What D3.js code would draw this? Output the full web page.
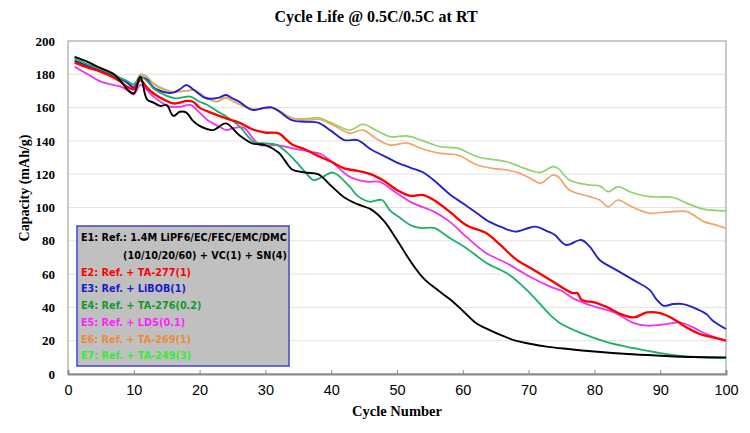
<!DOCTYPE html>
<html><head><meta charset="utf-8">
<script src="https://cdn.jsdelivr.net/npm/d3@7"></script>
<style>body{margin:0;background:#fff}</style>
</head><body>
<svg id="chart" width="750" height="433"></svg>
<script>
const chartTitle = "Cycle Life @ 0.5C/0.5C at RT";
const xTitle = "Cycle Number";
const yTitle = "Capacity (mAh/g)";
const xTicks = [0,10,20,30,40,50,60,70,80,90,100];
const yTicks = [0,20,40,60,80,100,120,140,160,180,200];

const e1 = [[1,190.5],[3,187.5],[4,185.5],[6,182],[7,180],[8,176],[9,171],[10,168.5],[11,178.5],[12,165],[13,163],[14,161],[15,161.5],[16,155],[17,157.5],[18,157],[19,152],[20,149],[22,146.5],[24,150.5],[26,143.5],[28,138.5],[30,137.5],[32,133],[33,128],[34,123],[36,121],[38,120],[40,113],[42,106],[44,102],[46,99],[48,92],[50,80.5],[52,68],[54,57.6],[56,51],[58,45],[60,38],[62,30.6],[64,26.5],[66,23],[68,20],[70,18.3],[73,16.3],[76,15],[80,13.5],[85,12],[90,11],[95,10.2],[100,10]];
const e2 = [[1,187],[3,184],[5,181.5],[7,178],[8,175.5],[9,172.5],[10,171],[11,176.5],[12,172],[13,168.5],[15,164],[16,162.5],[17,163],[18,164],[19,163.5],[20,160],[22,156.5],[24,153.5],[26,151],[28,147],[30,145],[32,144.5],[34,138],[36,135],[38,131],[40,127.5],[42,123.5],[44,122],[46,120],[48,116],[50,110.5],[52,107],[54,107.5],[55.6,104.5],[58,97.5],[60.5,89.5],[63.6,84.5],[65.7,77.5],[68.2,68.5],[70.8,62.5],[73.3,56.5],[76.7,48.6],[77.4,48.6],[78.1,44.4],[80,43],[82,40],[84,36],[86,34],[88,37],[90,36.5],[92,33],[94,28],[96,24],[98,22],[100,20]];
const e3 = [[1,188],[3,185],[5,182],[7,179],[9,175],[10,172],[11,178],[12,177],[13,172],[15,169],[16,169],[17,171],[18,173.6],[19,171],[21,165.6],[23,166],[24,167.6],[25,165.5],[26,163.6],[28,158.6],[30,160],[31,160.1],[32,158],[34,152.5],[36,151.5],[38,151],[40,146],[42,140.5],[44,140.5],[46,135],[48,131],[50,127],[52,124],[54,121],[56,115],[58,108],[60,102.5],[62,97],[64,91.5],[66,88],[68,85.5],[70,87.7],[71,88.5],[73,85.5],[74,83.5],[75.7,77.5],[78,80.5],[79.3,76.5],[80.8,68.5],[83.3,62.5],[85.9,56.5],[88.4,50.5],[89.4,45],[90.5,41],[92,42],[93.5,42],[95,40],[97,36],[98,32],[100,27]];
const e4 = [[1,189.5],[3,186],[5,183],[7,179.5],[9,176],[10,174],[11,178.6],[12,176],[13,171.5],[15,167],[16.4,165.6],[18.6,166.6],[20,163.5],[21.2,161.6],[23,157],[24.1,154.5],[26.1,148.6],[28.2,139.5],[30.2,138.5],[31.8,137.5],[33,134],[34.2,129.5],[36,121.5],[37.3,116.5],[38.5,118],[40.3,121],[42.8,112.5],[44,107],[45.8,103.5],[47.7,104.5],[49,98],[50.5,93.7],[52,89.5],[53.5,87.7],[55.6,87.7],[58,81.7],[60.5,75.7],[63.6,66.7],[67.1,59.5],[70.2,48.6],[73.3,35.4],[75,30],[78,24.5],[82,19],[86,15.5],[90,12.5],[94,10.5],[97,9.8],[100,9.5]];
const e5 = [[1,184.5],[3,180],[5,175.6],[7,173.5],[8,172.6],[9,170.5],[10,168],[11,173.6],[12,170.5],[13,166.6],[15.5,160.6],[17,160.5],[18.6,161.6],[20,157],[21.2,152.5],[23,148.5],[24.1,146.5],[25,147.5],[26.7,148],[28,142],[29.2,137.5],[31.8,137.5],[34.2,135.5],[36.8,133.5],[38.5,132],[40.3,126.7],[42.8,118.5],[45.4,115.5],[47.3,115.5],[50,108.5],[52.5,102.5],[55.6,97.5],[58,91.5],[60.5,82.5],[63.6,72.5],[66.7,66.5],[69.7,59.5],[73.3,52.5],[75,50],[77,45],[80,40.5],[83,37],[86,30.5],[88,29],[91,30],[93,31],[95,28],[97,24],[100,20]];
const e6 = [[1,188],[3,185],[5,182],[7,179.5],[9,175],[10,173],[11,180],[12,178.5],[13,174],[15,170],[16,169.5],[18,170],[19.1,170.6],[21,166],[22.6,163.6],[24,166],[25,164],[26,162],[28.2,158.9],[30,159.5],[31.2,159.5],[32.5,157],[34.2,153.5],[36.8,152.5],[38,153],[40,150],[42.8,144.7],[44.8,146.5],[47,141],[49,137.5],[51.5,138.7],[54,135],[56.6,132.5],[59.2,131.5],[62.2,125.5],[64.5,123.5],[66.7,122.5],[68.7,120.5],[70.5,117],[71.8,114.5],[73.7,119.5],[74.5,118.5],[76.2,110.5],[79.3,106.5],[80.8,104.5],[82.1,100.5],[83.6,104.5],[85.4,101],[88.4,96.5],[90,97],[92,97.5],[94.1,97.5],[96.6,91.5],[98,90],[100,87.5]];
const e7 = [[1,189],[3,185.5],[5,182],[7,179.5],[9,175],[10,172.5],[11,179.5],[12,178.5],[13,174.5],[15,170.5],[16,169.5],[18,170],[19.1,170.6],[21,166],[22.6,163.6],[24,166],[25,164],[26,162],[28.2,158.9],[30,160],[31.2,159.5],[32.5,157],[34.2,153.5],[36.8,153.5],[38,154],[40,151],[42.8,146.5],[44.8,150],[47,146],[49,142.5],[51.5,143],[54,140],[56.6,136.5],[59.2,135.7],[62.2,130.5],[66.7,127.5],[68.7,124.5],[70.5,122],[71.8,121],[73.7,124.5],[74.5,123.5],[76.2,116.5],[79.3,113.5],[80.8,113],[82.1,109.5],[83.6,112.5],[85.4,109.5],[88.4,106.5],[92,106],[94.1,102.5],[96.6,99],[100,98]];

const legendLabels = ["E1: Ref.: 1.4M LiPF6/EC/FEC/EMC/DMC","(10/10/20/60) + VC(1) + SN(4)","E2: Ref. + TA-277(1)","E3: Ref. + LiBOB(1)","E4: Ref. + TA-276(0.2)","E5: Ref. + LDS(0.1)","E6: Ref. + TA-269(1)","E7: Ref. + TA-249(3)"];

// styles
const lineColors = {e1:"#000000",e2:"#ff0000",e3:"#2222cc",e4:"#1fae6a",e5:"#ee33ee",e6:"#f5a366",e7:"#8fd46b"};
const lineWidths = {e1:1.9,e2:2.3,e3:1.9,e4:1.8,e5:1.8,e6:1.7,e7:1.7};
const legendColors = ["#000000","#000000","#ff0000","#1a1acc","#11992e","#ff22ff","#ee8a3a","#33ee33"];

const series = [
  {key:"e7",data:e7},{key:"e6",data:e6},{key:"e3",data:e3},{key:"e5",data:e5},
  {key:"e4",data:e4},{key:"e2",data:e2},{key:"e1",data:e1}
];

const svg = d3.select("#chart");
const L=68,R=726,T=41,B=374;
const x = d3.scaleLinear().domain([0,100]).range([L,R]);
const y = d3.scaleLinear().domain([0,200]).range([B,T]);

// gridlines
svg.append("g").selectAll("line").data(yTicks.filter(d=>d>0 && d<200)).join("line")
  .attr("x1",L).attr("x2",R).attr("y1",d=>y(d)).attr("y2",d=>y(d))
  .attr("stroke","#e2e2e2").attr("stroke-width",1);

// frame
svg.append("rect").attr("x",L).attr("y",T).attr("width",R-L).attr("height",B-T)
  .attr("fill","none").attr("stroke","#a6a6a6").attr("stroke-width",1.2);

// x axis ticks (upward)
const xAxis = d3.axisBottom(x).tickValues(xTicks).tickSize(-4).tickPadding(11).tickFormat(d3.format("d"));
const gx = svg.append("g").attr("transform",`translate(0,${B})`).call(xAxis);
gx.select(".domain").attr("stroke","#8c8c8c").attr("stroke-width",2);
gx.selectAll(".tick line").attr("stroke","#8c8c8c");
gx.selectAll("text").attr("font-family","'Liberation Sans', Arial, sans-serif").attr("font-size",14.5).attr("fill","#000");

const yAxis = d3.axisLeft(y).tickValues(yTicks).tickSize(0).tickPadding(13);
const gy = svg.append("g").attr("transform",`translate(${L},0)`).call(yAxis);
gy.select(".domain").remove();
gy.selectAll("text").attr("font-family","'Liberation Serif', 'Times New Roman', serif").attr("font-weight","bold").attr("font-size",13).attr("fill","#000");

// lines
const line = d3.line().x(d=>x(d[0])).y(d=>y(d[1])).curve(d3.curveCatmullRom.alpha(0.5));
svg.append("g").selectAll("path").data(series).join("path")
  .attr("d",d=>line(d.data)).attr("fill","none")
  .attr("stroke",d=>lineColors[d.key]).attr("stroke-width",d=>lineWidths[d.key])
  .attr("stroke-linejoin","round");

// legend
const lg = svg.append("g");
lg.append("rect").attr("x",77).attr("y",226).attr("width",212).attr("height",140)
  .attr("fill","#c0c0c0").attr("stroke","#4b4bd6").attr("stroke-width",1.6);
const rowY = [238,256,273,289,306,323,340,356];
lg.selectAll("text").data(legendLabels).join("text")
  .attr("x",(d,i)=>i===1?123:81).attr("y",(d,i)=>rowY[i]).attr("dy","0.35em")
  .attr("font-family","'DejaVu Sans', sans-serif").attr("font-weight","bold").attr("font-size",9.7)
  .attr("fill",(d,i)=>legendColors[i]).text(d=>d);

// titles
svg.append("text").attr("x",376).attr("y",22).attr("text-anchor","middle")
  .attr("font-family","'Liberation Serif', 'Times New Roman', serif").attr("font-weight","bold").attr("font-size",16)
  .text(chartTitle);
svg.append("text").attr("x",(L+R)/2).attr("y",416).attr("text-anchor","middle")
  .attr("font-family","'Liberation Serif', 'Times New Roman', serif").attr("font-weight","bold").attr("font-size",14.5)
  .text(xTitle);
svg.append("text").attr("transform",`translate(29,188) rotate(-90)`).attr("text-anchor","middle")
  .attr("font-family","'Liberation Serif', 'Times New Roman', serif").attr("font-weight","bold").attr("font-size",14)
  .text(yTitle);
</script>
</body></html>
